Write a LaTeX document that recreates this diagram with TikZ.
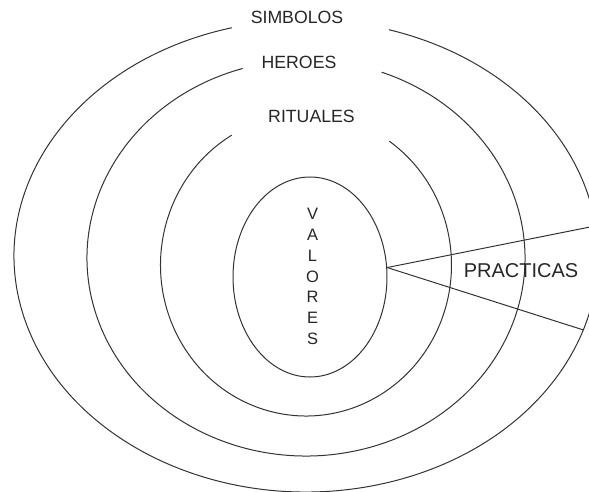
\documentclass[tikz,border=0pt]{standalone}
\usepackage{fontspec}
\setmainfont{Liberation Sans}
\usetikzlibrary{shapes.geometric}
\begin{document}
\begin{tikzpicture}[x=1pt,y=1pt,
  ring/.style={draw=black!80, line width=1pt},
  lbl/.style={inner sep=0pt, text=black!85, font=\fontsize{17.7}{20}\selectfont}]
\useasboundingbox (0,0) rectangle (589,491);
\clip (0,0) rectangle (589,491);
% outer ring (SIMBOLOS)
\draw[ring] (306,235) ++(104.7:292 and 236) arc[start angle=104.7, end angle=433.5, x radius=292, y radius=236];
% middle ring (HEROES)
\draw[ring] (306,233) ++(106.8:219 and 198) arc[start angle=106.8, end angle=429.8, x radius=219, y radius=198];
% inner ring (RITUALES)
\draw[ring] (306,226) ++(120.7:145.5 and 151) arc[start angle=120.7, end angle=415.1, x radius=145.5, y radius=151];
% core
\node[ring, ellipse, minimum width=154pt, minimum height=200pt, inner sep=0pt] (valores) at (310,214) {};
\node[inner sep=0pt, text=black!85, align=center, font=\fontsize{16.5}{20.9}\selectfont] (valorestxt) at (312.5,214.5) {V\\A\\L\\O\\R\\E\\S};
% labels
\node[lbl] (simbolos) at (297,473.5) {SIMBOLOS};
\node[lbl] (heroes) at (299,428.5) {HEROES};
\node[lbl] (rituales) at (311.5,374.5) {RITUALES};
\node[lbl, font=\fontsize{20}{24}\selectfont] (practicas) at (521,220) {PRACTICAS};
% practicas wedge
\coordinate (apex) at (valores.7);
\coordinate (upper) at (595,265);
\coordinate (lower) at (583.5,161);
\draw[ring] (apex) -- (upper);
\draw[ring] (apex) -- (lower);
\end{tikzpicture}
\end{document}
